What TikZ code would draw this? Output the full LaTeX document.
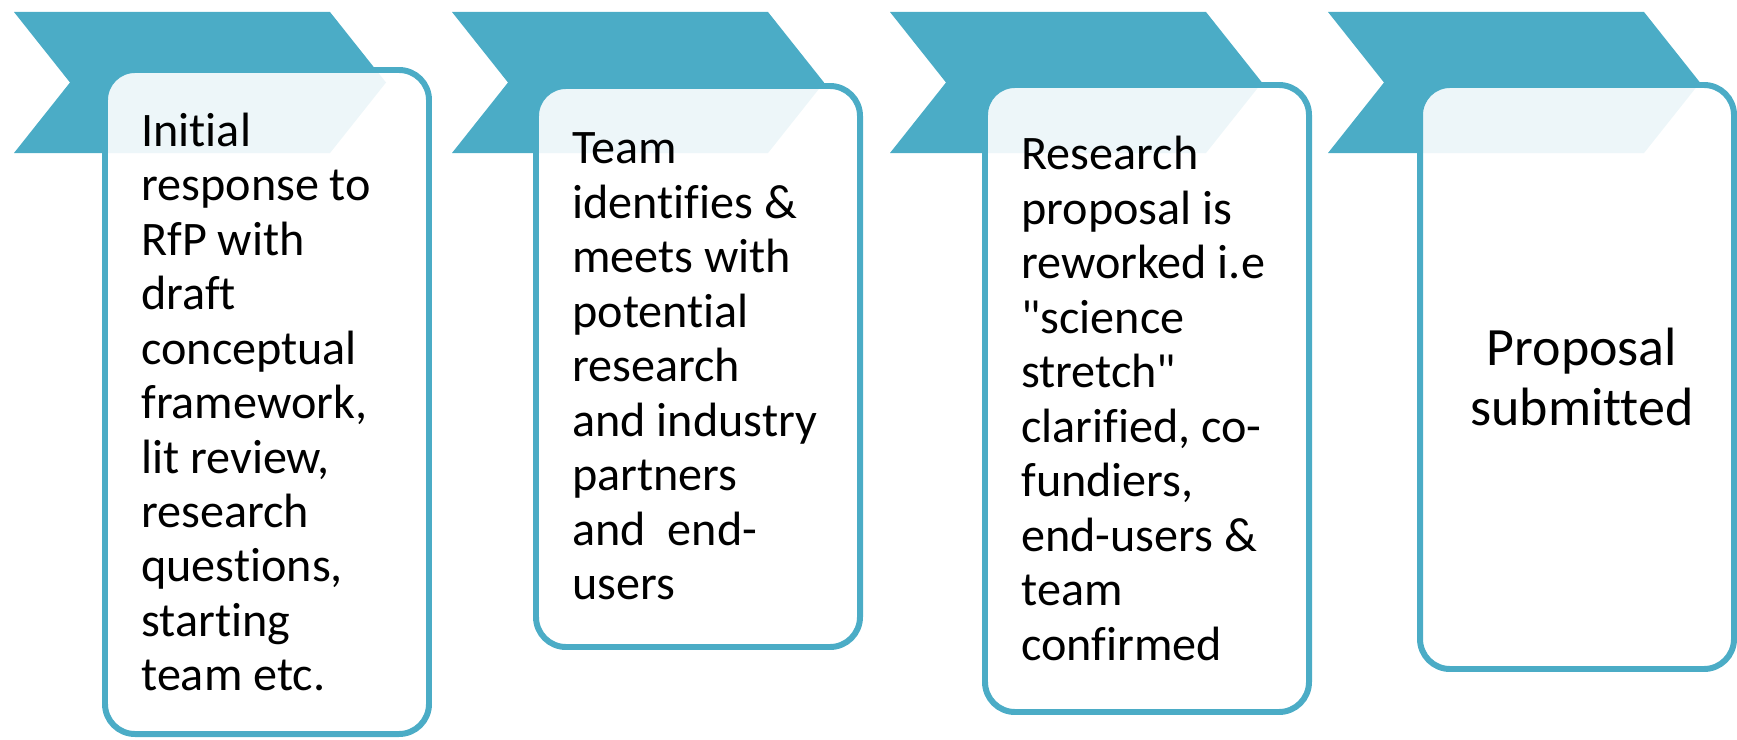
\documentclass[tikz,border=0pt]{standalone}
\usepackage{fontspec}
\setmainfont{Carlito}[Ligatures={TeXOff,NoCommon}]
\usetikzlibrary{positioning}
\definecolor{stageblue}{HTML}{4BACC6}
\tikzset{
  chevron/.style={fill=stageblue},
  stagebox/.style={draw=stageblue, line width=3.4pt, fill=white, fill opacity=0.9,
    rounded corners=6mm, minimum width=64.8mm, inner sep=0pt},
  stagetext/.style={anchor=west, align=left, inner sep=0pt,
    font=\fontsize{27.4}{31}\selectfont},
  endtext/.style={align=center, inner sep=0pt, font=\fontsize{30.7}{34.1}\selectfont}
}

\begin{document}
\begin{tikzpicture}[x=0.2mm, y=-0.2mm]
  \useasboundingbox (0,0) rectangle (1737,740);

  % chevrons across the top
  \foreach \x in {14,452,890,1328}
    \fill[chevron] (\x,12) -- ++(316,0) -- ++(56,70.5) -- ++(-56,70.5)
      -- ++(-316,0) -- ++(56,-70.5) -- cycle;

  % stage boxes
  \node[stagebox, minimum height=132.8mm] (b1) at (267,402) {};
  \node[stagebox, minimum height=112.2mm] (b2) at (698,366.5) {};
  \node[stagebox, minimum height=125.4mm] (b3) at (1147,398.5) {};
  \node[stagebox, minimum width=62.8mm, minimum height=116.8mm] (b4) at (1577,377) {};

  \node[stagetext] (t1) at ([xshift=7.8mm]b1.west) {Initial\\response to\\RfP with\\draft\\conceptual\\framework,\\lit review,\\research\\questions,\\starting\\team etc.};
  \node[stagetext] (t2) at ([xshift=7.8mm]b2.west) {Team\\identifies \&\\meets with\\potential\\research\\and industry\\partners\\and\ \ end-\\users};
  \node[stagetext] (t3) at ([xshift=7.8mm]b3.west) {Research\\proposal is\\reworked i.e\\"science\\stretch"\\clarified, co-\\fundiers,\\end-users \&\\team\\confirmed};
  \node[endtext] (t4) at ([xshift=1mm]b4.center) {Proposal\\submitted};
\end{tikzpicture}
\end{document}
